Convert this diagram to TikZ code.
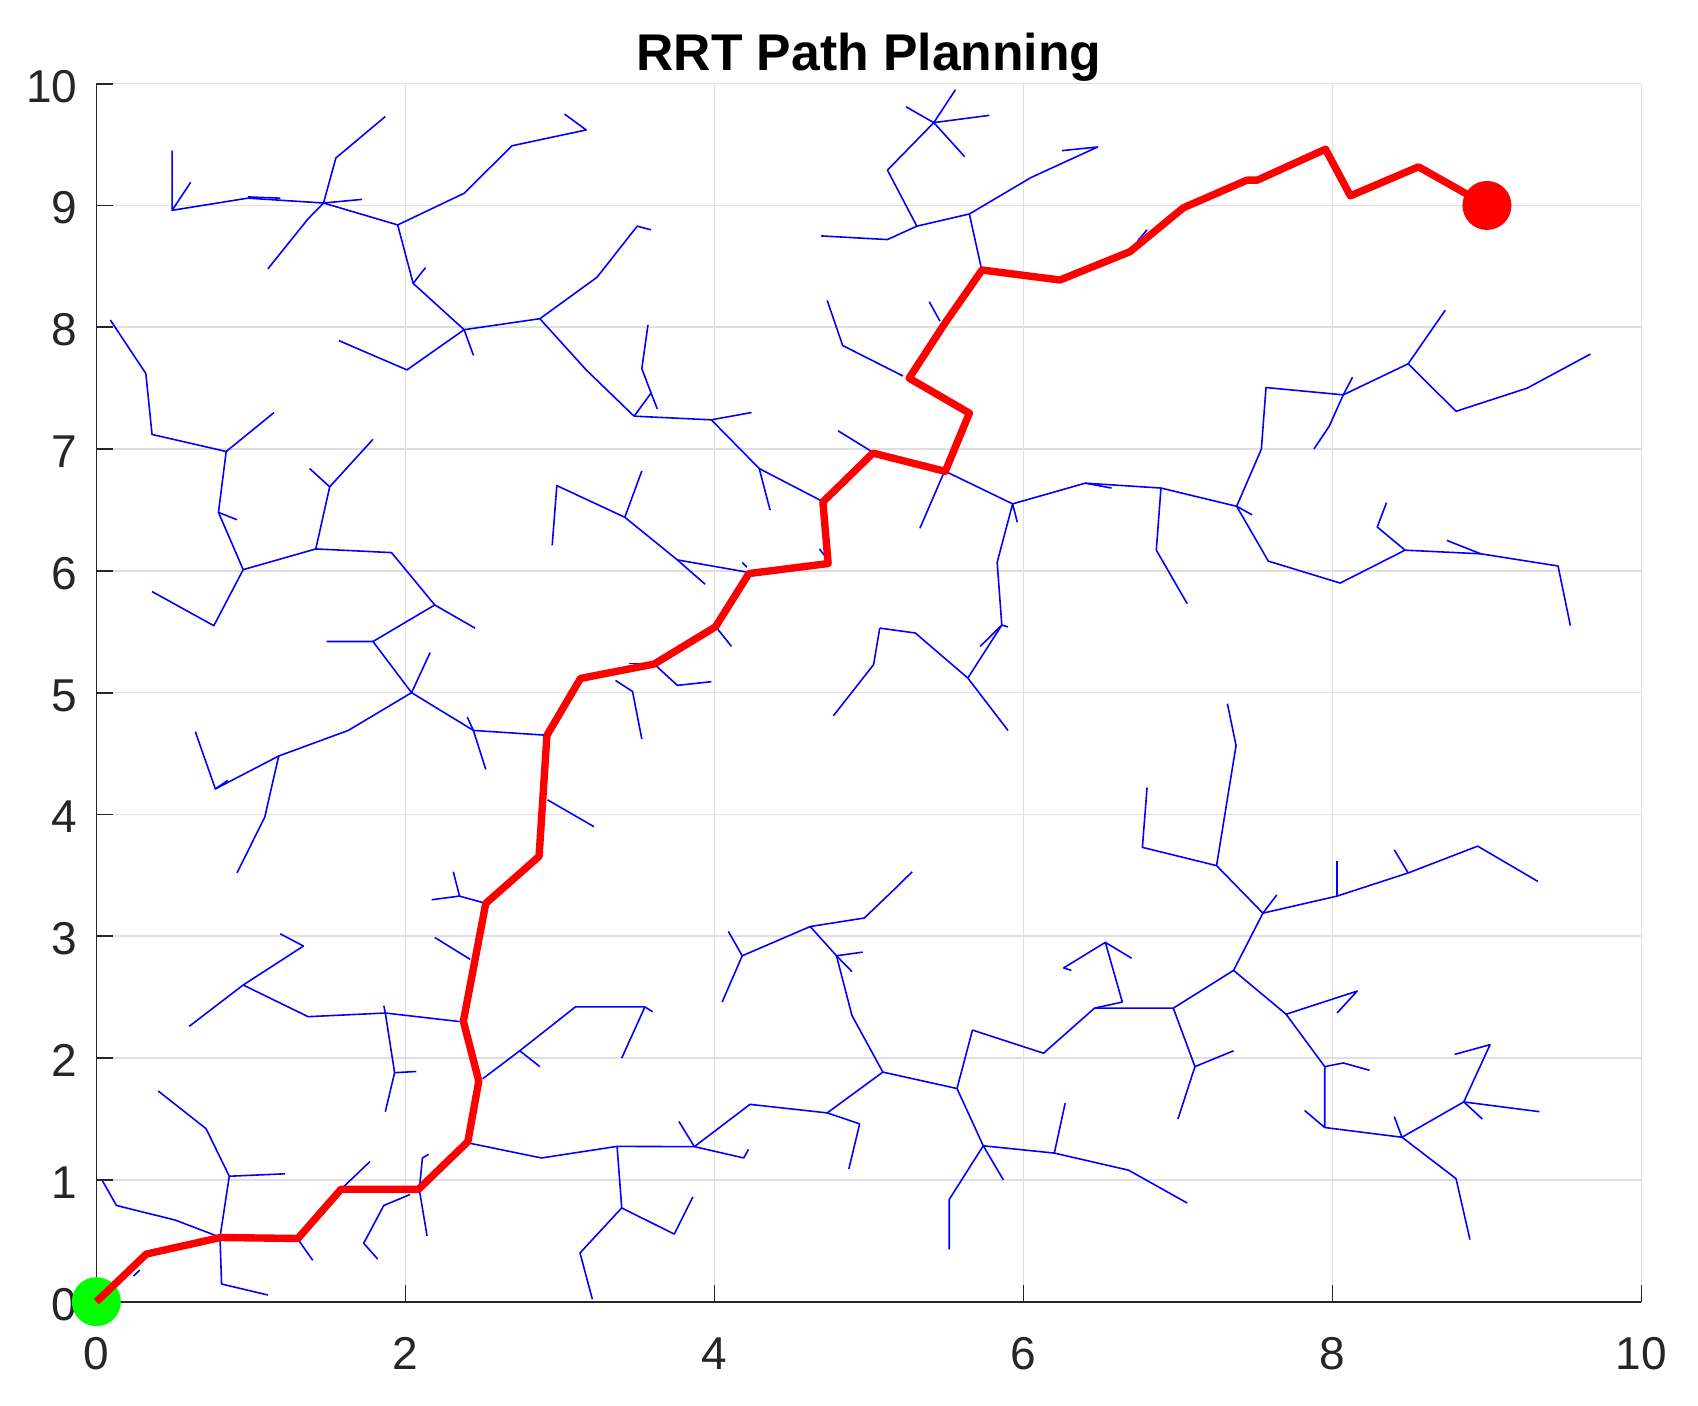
\documentclass[tikz,border=0pt]{standalone}
\usepackage{fontspec}
\setmainfont{Liberation Sans}
\definecolor{axisgray}{HTML}{262626}
\definecolor{gridgray}{HTML}{DFDFDF}
\definecolor{treeblue}{rgb}{0,0,1}
\definecolor{pathred}{rgb}{1,0,0}
\definecolor{startgreen}{rgb}{0,1,0}
\tikzset{
  gridline/.style={draw=gridgray, line width=0.45pt},
  axisline/.style={draw=axisgray, line width=0.5pt},
  tree/.style={draw=treeblue, line width=0.45pt, line join=round},
  rrtpath/.style={draw=pathred, line width=2.1pt, line join=round},
  ticklabel/.style={text=axisgray, inner sep=0pt, font=\fontsize{13.1}{15}\selectfont},
}
\begin{document}
\begin{tikzpicture}[x=1.545cm,y=1.218cm]
\useasboundingbox (-0.624,-0.856) rectangle (10.366,10.687);
\fill[white] (-0.624,-0.856) rectangle (10.366,10.687);
% grid
\foreach \x in {2,4,6,8,10} \draw[gridline] (\x,0) -- (\x,10);
\foreach \y in {1,...,10} \draw[gridline] (0,\y) -- (10,\y);
% axes
\draw[axisline] (0,10) -- (0,0) -- (10,0);
\foreach \y in {0,...,10} \draw[axisline] (0,\y) -- ++(0.108,0);
\foreach \x in {0,2,4,6,8,10} \draw[axisline] (\x,0) -- ++(0,0.137);
% tick labels
\foreach \y in {0,...,10} \node[ticklabel, anchor=base east] (yl\y) at (-0.119,\y-0.152) {\y};
\foreach \x in {0,2,4,6,8,10} \node[ticklabel, anchor=base] (xl\x) at (\x,-0.555) {\x};
% title
\node[anchor=base, inner sep=0pt, font=\fontsize{14.7}{17}\selectfont\bfseries] (title) at (5,10.107) {RRT Path Planning};

% ---------------- tree ----------------
% top-left
\draw[tree] (0.49,9.45)--(0.49,8.96)--(0.61,9.19);
\draw[tree] (0.49,8.96)--(0.98,9.06)--(1.47,9.02);
\draw[tree] (0.98,9.07)--(1.19,9.06);
\draw[tree] (1.47,9.02)--(1.72,9.05);
\draw[tree] (1.47,9.02)--(1.55,9.39)--(1.87,9.73);
\draw[tree] (1.47,9.02)--(1.37,8.89)--(1.11,8.48);
\draw[tree] (1.47,9.02)--(1.95,8.84)--(2.38,9.10)--(2.69,9.49)--(3.17,9.62)--(3.03,9.75);
\draw[tree] (1.95,8.84)--(2.05,8.36)--(2.13,8.49);
\draw[tree] (2.05,8.36)--(2.38,7.98)--(2.44,7.77);
\draw[tree] (2.38,7.98)--(2.01,7.65)--(1.57,7.89);
\draw[tree] (2.38,7.98)--(2.87,8.07)--(3.24,8.41)--(3.50,8.83)--(3.59,8.80);
\draw[tree] (2.87,8.07)--(3.17,7.65)--(3.48,7.27);
\draw[tree] (3.48,7.27)--(3.59,7.46)--(3.53,7.66)--(3.57,8.02);
\draw[tree] (3.59,7.46)--(3.63,7.33);
\draw[tree] (3.48,7.27)--(3.98,7.24)--(4.24,7.30);
\draw[tree] (3.98,7.24)--(4.29,6.84)--(4.36,6.50);
\draw[tree] (4.29,6.84)--(4.70,6.57);
% left column
\draw[tree] (0.09,8.06)--(0.32,7.62)--(0.36,7.12)--(0.84,6.98)--(1.15,7.30);
\draw[tree] (0.84,6.98)--(0.79,6.48)--(0.91,6.42);
\draw[tree] (0.79,6.48)--(0.95,6.01)--(1.42,6.18)--(1.91,6.15)--(2.19,5.72)--(2.45,5.53);
\draw[tree] (0.95,6.01)--(0.76,5.55)--(0.36,5.83);
\draw[tree] (1.42,6.18)--(1.51,6.69)--(1.79,7.08);
\draw[tree] (1.51,6.69)--(1.38,6.84);
\draw[tree] (2.19,5.72)--(1.79,5.42)--(1.49,5.42);
\draw[tree] (1.79,5.42)--(2.04,5.00)--(2.16,5.33);
\draw[tree] (2.04,5.00)--(1.63,4.69)--(1.18,4.48)--(0.77,4.21)--(0.64,4.68);
\draw[tree] (0.77,4.21)--(0.85,4.28);
\draw[tree] (1.18,4.48)--(1.16,4.37)--(1.09,3.98)--(0.91,3.52);
\draw[tree] (2.04,5.00)--(2.44,4.69)--(2.92,4.65);
\draw[tree] (2.40,4.80)--(2.44,4.69)--(2.52,4.37);
\draw[tree] (2.95,6.21)--(2.98,6.70)--(3.42,6.44)--(3.53,6.82);
\draw[tree] (3.42,6.44)--(3.76,6.09)--(4.21,5.99);
\draw[tree] (3.76,6.09)--(3.94,5.89);
\draw[tree] (4.18,6.07)--(4.21,6.03);
\draw[tree] (2.92,4.12)--(3.22,3.90);
\draw[tree] (2.31,3.53)--(2.35,3.33)--(2.17,3.30);
\draw[tree] (2.35,3.33)--(2.52,3.27);
% middle
\draw[tree] (4.01,5.54)--(4.11,5.38);
\draw[tree] (3.61,5.235)--(3.76,5.06)--(3.98,5.09);
\draw[tree] (3.45,5.24)--(3.61,5.24);
\draw[tree] (3.36,5.10)--(3.47,5.01)--(3.53,4.62);
\draw[tree] (4.68,6.18)--(4.71,6.13);
\draw[tree] (5.07,5.53)--(5.30,5.49)--(5.64,5.12)--(5.90,4.69);
\draw[tree] (5.07,5.53)--(5.03,5.23)--(4.77,4.81);
\draw[tree] (5.64,5.12)--(5.86,5.555)--(5.90,5.54);
\draw[tree] (5.86,5.555)--(5.72,5.38);
\draw[tree] (5.86,5.555)--(5.83,6.07)--(5.93,6.55)--(5.96,6.40);
\draw[tree] (5.49,6.82)--(5.93,6.55);
\draw[tree] (5.93,6.55)--(6.40,6.72)--(6.89,6.68)--(7.38,6.53);
\draw[tree] (6.40,6.72)--(6.57,6.68);
\draw[tree] (5.49,6.82)--(5.33,6.35);
\draw[tree] (7.38,6.53)--(7.48,6.46);
\draw[tree] (6.89,6.68)--(6.86,6.17)--(7.06,5.73);
\draw[tree] (7.38,6.53)--(7.585,6.08)--(8.05,5.90)--(8.47,6.17)--(8.96,6.14)--(9.46,6.04)--(9.54,5.55);
\draw[tree] (8.47,6.17)--(8.29,6.36)--(8.35,6.56);
\draw[tree] (8.96,6.14)--(8.74,6.25);
% upper right
\draw[tree] (7.38,6.53)--(7.54,7.00)--(7.57,7.505)--(8.07,7.445)--(8.13,7.59);
\draw[tree] (8.07,7.445)--(8.49,7.70)--(8.73,8.14);
\draw[tree] (8.49,7.70)--(8.80,7.31)--(9.26,7.50)--(9.67,7.78);
\draw[tree] (8.07,7.445)--(7.98,7.19)--(7.88,7.00);
\draw[tree] (6.80,8.80)--(6.74,8.71);
% top middle
\draw[tree] (5.24,9.81)--(5.42,9.68)--(5.62,9.40);
\draw[tree] (5.42,9.68)--(5.56,9.95);
\draw[tree] (5.42,9.68)--(5.78,9.74);
\draw[tree] (5.42,9.68)--(5.12,9.29)--(5.31,8.83)--(5.12,8.72)--(4.69,8.75);
\draw[tree] (5.31,8.83)--(5.65,8.93)--(6.05,9.23)--(6.48,9.48)--(6.25,9.45);
\draw[tree] (5.65,8.93)--(5.73,8.47);
\draw[tree] (5.39,8.21)--(5.46,8.05);
\draw[tree] (4.73,8.22)--(4.83,7.85)--(5.22,7.60);
\draw[tree] (4.80,7.15)--(5.03,6.97);
% bottom left
\draw[tree] (1.19,3.02)--(1.34,2.92)--(0.95,2.60)--(0.60,2.26);
\draw[tree] (0.95,2.60)--(1.37,2.34)--(1.87,2.37)--(2.35,2.30);
\draw[tree] (1.87,2.37)--(1.86,2.43);
\draw[tree] (1.87,2.37)--(1.93,1.88)--(2.07,1.89);
\draw[tree] (1.93,1.88)--(1.87,1.56);
\draw[tree] (2.19,2.99)--(2.42,2.81);
\draw[tree] (2.50,1.83)--(2.74,2.06)--(3.10,2.42)--(3.55,2.42)--(3.60,2.38);
\draw[tree] (2.74,2.06)--(2.87,1.93);
\draw[tree] (3.55,2.42)--(3.40,2.00);
\draw[tree] (2.42,1.30)--(2.88,1.18)--(3.37,1.275)--(3.87,1.273)--(4.23,1.62)--(4.73,1.55)--(5.09,1.885);
\draw[tree] (3.37,1.275)--(3.40,0.77)--(3.13,0.40)--(3.21,0.02);
\draw[tree] (3.40,0.77)--(3.74,0.555)--(3.86,0.86);
\draw[tree] (3.87,1.273)--(3.77,1.48);
\draw[tree] (3.87,1.273)--(4.19,1.18)--(4.22,1.25);
\draw[tree] (4.73,1.55)--(4.94,1.46)--(4.87,1.09);
\draw[tree] (5.09,1.885)--(4.89,2.35)--(4.79,2.84)--(4.62,3.08)--(4.97,3.15)--(5.16,3.38)--(5.28,3.53);
\draw[tree] (4.79,2.84)--(4.89,2.71);
\draw[tree] (4.79,2.84)--(4.96,2.87);
\draw[tree] (4.62,3.08)--(4.18,2.84)--(4.09,3.04);
\draw[tree] (4.18,2.84)--(4.05,2.46);
% bottom right
\draw[tree] (5.09,1.885)--(5.57,1.75)--(5.67,2.23)--(6.13,2.04)--(6.46,2.41)--(6.97,2.41)--(7.36,2.72)--(7.55,3.19)--(7.25,3.58)--(7.376,4.566)--(7.32,4.91);
\draw[tree] (6.46,2.41)--(6.64,2.46)--(6.53,2.95)--(6.26,2.74)--(6.31,2.72);
\draw[tree] (6.53,2.95)--(6.70,2.82);
\draw[tree] (7.25,3.58)--(6.77,3.73)--(6.80,4.22);
\draw[tree] (7.55,3.19)--(7.64,3.34);
\draw[tree] (7.55,3.19)--(8.03,3.33)--(8.49,3.52)--(8.94,3.74)--(9.33,3.45);
\draw[tree] (8.03,3.33)--(8.03,3.62);
\draw[tree] (8.49,3.52)--(8.40,3.71);
\draw[tree] (7.36,2.72)--(7.70,2.36)--(8.16,2.55)--(8.03,2.37);
\draw[tree] (7.70,2.36)--(7.95,1.93)--(8.07,1.96)--(8.24,1.90);
\draw[tree] (7.95,1.93)--(7.95,1.43)--(7.82,1.57);
\draw[tree] (7.95,1.43)--(8.45,1.35)--(8.40,1.52);
\draw[tree] (8.45,1.35)--(8.85,1.64)--(9.02,2.11)--(8.79,2.03);
\draw[tree] (8.85,1.64)--(9.34,1.56);
\draw[tree] (8.85,1.64)--(8.97,1.50);
\draw[tree] (8.45,1.35)--(8.80,1.01)--(8.89,0.51);
\draw[tree] (6.97,2.41)--(7.11,1.93)--(7.36,2.06);
\draw[tree] (7.11,1.93)--(7.00,1.50);
\draw[tree] (5.57,1.75)--(5.74,1.28)--(5.52,0.84)--(5.52,0.43);
\draw[tree] (5.74,1.28)--(5.87,1.00);
\draw[tree] (5.74,1.28)--(6.20,1.22)--(6.27,1.63);
\draw[tree] (6.20,1.22)--(6.68,1.08)--(7.06,0.81);
% bottom-left corner
\draw[tree] (0.04,0.99)--(0.13,0.79)--(0.51,0.67)--(0.80,0.53);
\draw[tree] (0.80,0.53)--(0.81,0.145)--(1.11,0.055);
\draw[tree] (0.80,0.53)--(0.86,1.03)--(1.22,1.05);
\draw[tree] (0.86,1.03)--(0.71,1.42)--(0.40,1.73);
\draw[tree] (1.30,0.52)--(1.40,0.34);
\draw[tree] (1.58,0.92)--(1.77,1.15);
\draw[tree] (2.09,0.92)--(2.14,0.54);
\draw[tree] (2.09,0.92)--(2.11,1.18)--(2.15,1.21);
\draw[tree] (2.03,0.88)--(1.86,0.79)--(1.73,0.48)--(1.82,0.35);
\draw[tree] (0.24,0.21)--(0.28,0.26);

% ---------------- start, path, goal ----------------
\fill[startgreen] (0,0) circle[radius=0.245cm];
\coordinate (start) at (0,0);
\coordinate (goal) at (9,9);
\draw[rrtpath] (start) -- (0.323,0.391) -- (0.803,0.527) -- (1.304,0.519) -- (1.583,0.923)
  -- (2.085,0.923) -- (2.404,1.314) -- (2.475,1.811) -- (2.375,2.303) -- (2.520,3.27)
  -- (2.865,3.656) -- (2.916,4.650) -- (3.133,5.117) -- (3.610,5.235) -- (4.007,5.541)
  -- (4.223,5.978) -- (4.736,6.060) -- (4.702,6.566) -- (5.026,6.967) -- (5.494,6.817)
  -- (5.650,7.295) -- (5.260,7.582) -- (5.49,8.03) -- (5.732,8.47) -- (6.236,8.388)
  -- (6.689,8.620) -- (7.035,8.981) -- (7.447,9.208) -- (7.514,9.208) -- (7.955,9.462)
  -- (8.116,9.079) -- (8.557,9.317) -- (goal);
\fill[pathred] (goal) circle[radius=0.245cm];
\end{tikzpicture}
\end{document}
